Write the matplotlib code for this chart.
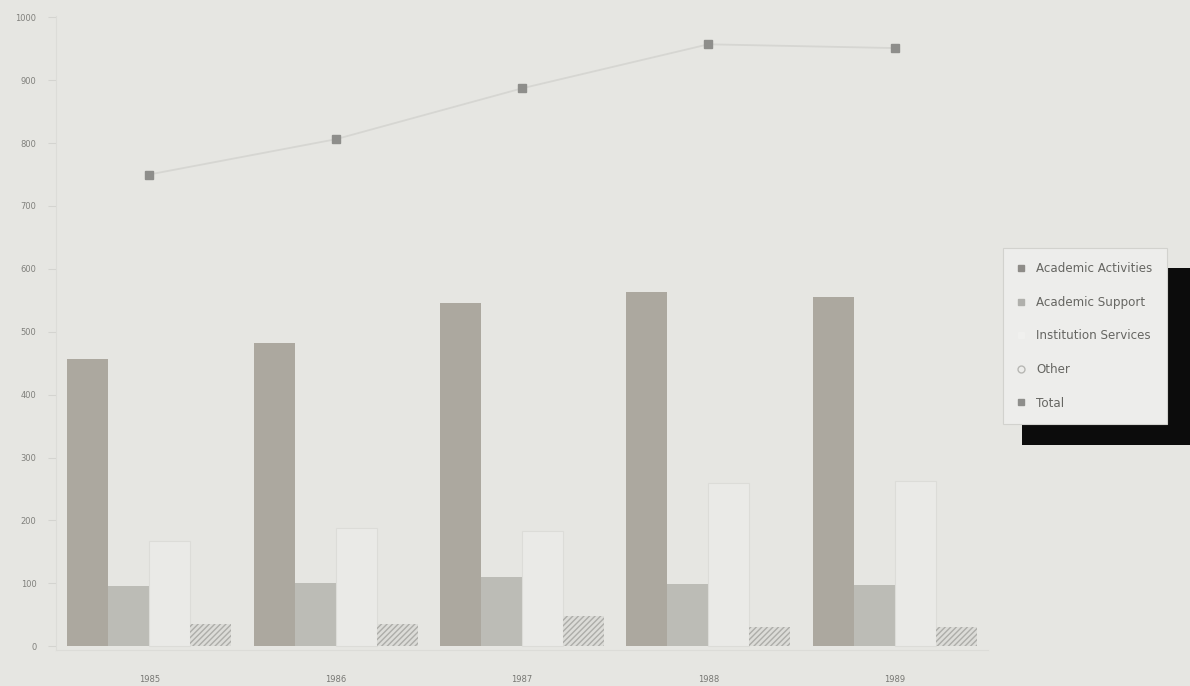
import numpy as np
import matplotlib
matplotlib.use("Agg")
import matplotlib.pyplot as plt
from matplotlib.lines import Line2D
from matplotlib.patches import Rectangle

years = ["1985", "1986", "1987", "1988", "1989"]
academic_activities = [456, 482, 545, 563, 555]
academic_support = [95, 100, 110, 99, 97]
institution_services = [168, 188, 183, 260, 262]
other = [36, 36, 48, 30, 30]
total = [750, 806, 887, 957, 951]
y_ticks = [0, 100, 200, 300, 400, 500, 600, 700, 800, 900, 1000]

bg = "#e6e6e2"
fig = plt.figure(figsize=(11.9, 6.86), dpi=100, facecolor=bg)
ax = fig.add_axes([56 / 1190, 1 - 650 / 686, (988 - 56) / 1190, (650 - 16) / 686])
ax.set_facecolor(bg)

x = np.arange(len(years))
w = 0.22
ax.bar(x - 1.5 * w, academic_activities, w, color="#aca89f", zorder=2)
ax.bar(x - 0.5 * w, academic_support, w, color="#bcbcb6", zorder=2)
ax.bar(x + 0.5 * w, institution_services, w, facecolor="#eaeae7",
       edgecolor="#dcdcd8", linewidth=0.8, zorder=2)
plt.rcParams["hatch.color"] = "#adada9"
ax.bar(x + 1.5 * w, other, w, facecolor="#dcdcd8", hatch="//////",
       edgecolor="#adada9", linewidth=0, zorder=2)

ax.plot(x, total, color="#d6d6d2", linewidth=1.3, marker="s", markersize=6,
        markerfacecolor="#8e8e8b", markeredgecolor="#8e8e8b", zorder=3)

ax.set_xlim(-0.5, len(years) - 0.5)
ax.set_ylim(-6, 1002)
ax.set_xticks(x)
ax.set_xticklabels(years)
ax.set_yticks(y_ticks)
ax.tick_params(axis="x", length=0, pad=18, labelsize=6, labelcolor="#777773")
ax.tick_params(axis="y", length=6, width=0.8, color="#d4d4d0", pad=8,
               labelsize=6, labelcolor="#80807c")
for side in ["top", "right"]:
    ax.spines[side].set_visible(False)
ax.spines["left"].set_color("#dcdcd8")
ax.spines["bottom"].set_color("#dcdcd8")

# legend with a hard black drop shadow
fig.patches.append(Rectangle((1022 / 1190, 1 - 445 / 686), (1190 - 1022) / 1190,
                             (445 - 268) / 686, transform=fig.transFigure,
                             facecolor="#0c0c0c", edgecolor="none", zorder=1))
handles = [
    Line2D([], [], linestyle="none", marker="s", markersize=5, color="#8e8c88"),
    Line2D([], [], linestyle="none", marker="s", markersize=5, color="#b0b0ac"),
    Line2D([], [], linestyle="none", marker="s", markersize=5, color="#f0f0ee"),
    Line2D([], [], linestyle="none", marker="o", markersize=5,
           markerfacecolor="none", markeredgecolor="#b8b8b4"),
    Line2D([], [], linestyle="none", marker="s", markersize=5, color="#8e8e8b"),
]
labels = ["Academic Activities", "Academic Support", "Institution Services",
          "Other", "Total"]
leg = fig.legend(handles, labels, loc="upper left",
                 bbox_to_anchor=(1003 / 1190, 1 - 248 / 686),
                 fontsize=8.6, labelcolor="#666662", frameon=True, fancybox=False,
                 facecolor="#ededeb", edgecolor="#d2d2ce", framealpha=1,
                 labelspacing=1.72, handlelength=0.65, handletextpad=0.95,
                 borderpad=1.2, borderaxespad=0)
leg.set_zorder(5)
leg.get_frame().set_linewidth(0.8)

fig.savefig("out.png", dpi=100, facecolor=bg)
